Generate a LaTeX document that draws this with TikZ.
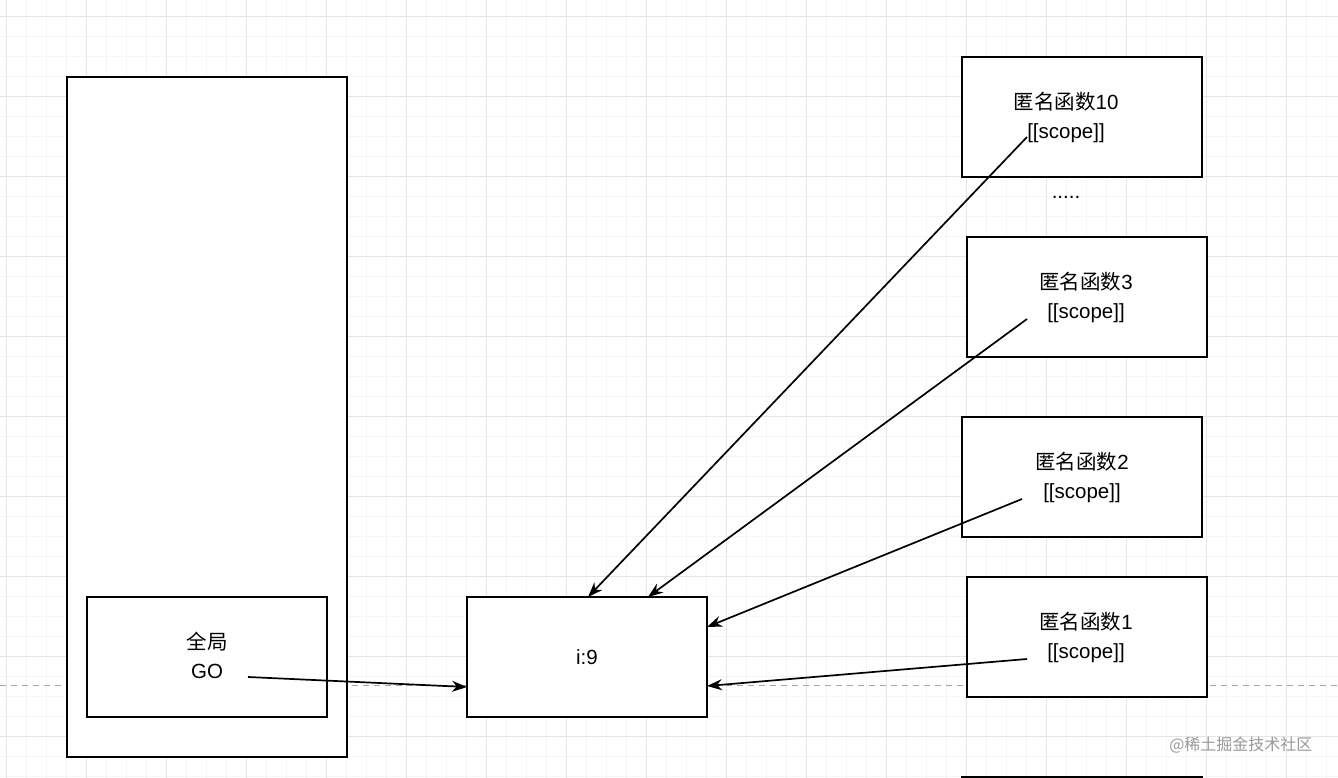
\documentclass[tikz,border=0pt]{standalone}
\usepackage{fontspec}
\setmainfont{Liberation Sans}
\newfontfamily\cjk{Noto Sans CJK SC}
\usetikzlibrary{arrows.meta}
\begin{document}
\begin{tikzpicture}[x=1pt,y=-1pt,
  box/.style={draw=black,line width=2.4pt,fill=white},
  lab/.style={font=\fontsize{20.5}{29}\selectfont,align=center},
  arr/.style={-{Stealth[length=15pt,width=11pt]},line width=1.7pt}]
\useasboundingbox (0,0) rectangle (1338,778);
\fill[white] (0,0) rectangle (1338,778);
\foreach \x in {6.7,26.7,...,1338} \draw[black!4,line width=0.8pt] (\x,0) -- (\x,778);
\foreach \y in {16.5,36.5,...,778} \draw[black!4,line width=0.8pt] (0,\y) -- (1338,\y);
\foreach \x in {6.7,86.7,...,1338} \draw[black!10,line width=1pt] (\x,0) -- (\x,778);
\foreach \y in {16.5,96.5,...,778} \draw[black!10,line width=1pt] (0,\y) -- (1338,\y);
\draw[black!35,dash pattern=on 6pt off 5pt,line width=1pt] (0,685) -- (1338,685);
\draw[box] (67,77) rectangle (347,757);
\draw[box] (87,597) rectangle (327,717);
\draw[box] (467,597) rectangle (707,717);
\draw[box] (962,57) rectangle (1202,177);
\draw[box] (967,237) rectangle (1207,357);
\draw[box] (962,417) rectangle (1202,537);
\draw[box] (967,577) rectangle (1207,697);
\draw[box] (962,777) rectangle (1202,800);
\node[lab] (g) at (207,655) {{\cjk 全局}\\GO};
\node[lab] (i) at (587,657) {i:9};
\node[lab] (f10) at (1066,117) {{\cjk 匿名函数}10\\{[}[scope]]};
\node[lab] (f3) at (1086,297) {{\cjk 匿名函数}3\\{[}[scope]]};
\node[lab] (f2) at (1082,477) {{\cjk 匿名函数}2\\{[}[scope]]};
\node[lab] (f1) at (1086,637) {{\cjk 匿名函数}1\\{[}[scope]]};
\node[lab] (dots) at (1066,197) {.....};
\node[font=\fontsize{16}{18}\selectfont\cjk,text=black!40,anchor=east] (wm) at (1316,745) {@稀土掘金技术社区};
\coordinate (s0) at (248,677); \coordinate (e0) at (467,687);
\coordinate (s1) at (1027,659); \coordinate (e1) at (707,686);
\coordinate (s2) at (1022,499); \coordinate (e2) at (707,627);
\coordinate (s3) at (1027,319); \coordinate (e3) at (648,597);
\coordinate (s4) at (1027,137); \coordinate (e4) at (588,597);
\draw[arr] (s0) -- (e0);
\draw[arr] (s1) -- (e1);
\draw[arr] (s2) -- (e2);
\draw[arr] (s3) -- (e3);
\draw[arr] (s4) -- (e4);
\end{tikzpicture}
\end{document}
